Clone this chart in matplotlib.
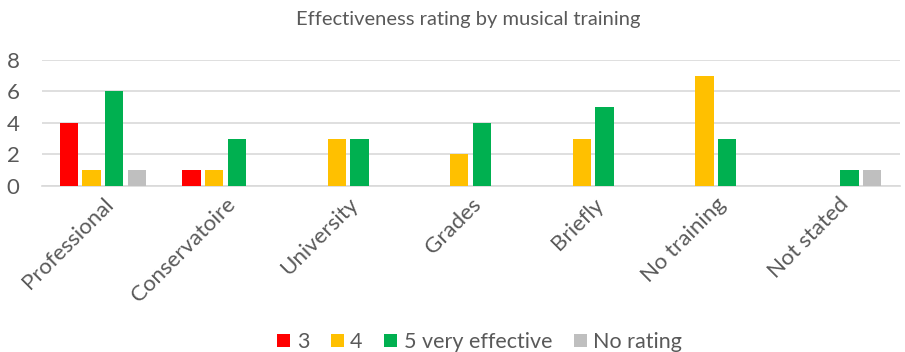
import matplotlib.pyplot as plt
import numpy as np

# ----------------------------
# Data
# ----------------------------
categories = ["Professional", "Conservatoire", "University", "Grades",
              "Briefly", "No training", "Not stated"]
series_names = ["3", "4", "5 very effective", "No rating"]
rating_3 = [4, 1, 0, 0, 0, 0, 0]
rating_4 = [1, 1, 3, 2, 3, 7, 0]
rating_5 = [6, 3, 3, 4, 5, 3, 1]
no_rating = [1, 0, 0, 0, 0, 0, 1]
y_ticks = [0, 2, 4, 6, 8]

# ----------------------------
# Look
# ----------------------------
COLORS = ["#FF0000", "#FFC000", "#00B050", "#BFBFBF"]
TEXT_COLOR = "#595959"
GRID_COLOR = "#D9D9D9"
FONT = ["Lato", "DejaVu Sans"]
BAR_W = 0.15
BAR_STEP = 0.185

plt.rcParams['font.family'] = FONT

fig = plt.figure(figsize=(9.05, 3.52), dpi=100)
ax = fig.add_axes([0.046, 0.472, 0.948, 0.358])

x = np.arange(len(categories))
all_series = [rating_3, rating_4, rating_5, no_rating]
for i, (vals, name, col) in enumerate(zip(all_series, series_names, COLORS)):
    offs = (i - 1.5) * BAR_STEP
    ax.bar(x + offs, vals, width=BAR_W, color=col, label=name, zorder=3)

ax.set_xlim(-0.5, len(categories) - 0.5)
ax.set_ylim(0, 8)
ax.set_yticks(y_ticks)
ax.set_yticklabels([str(t) for t in y_ticks], fontsize=16, color=TEXT_COLOR)
ax.set_xticks(x)
ax.set_xticklabels(categories, rotation=45, ha='right', rotation_mode='anchor',
                   fontsize=16, color=TEXT_COLOR)
ax.tick_params(axis='y', length=0, pad=16)
ax.tick_params(axis='x', length=0, pad=6)

ax.yaxis.grid(True, color=GRID_COLOR, linewidth=1.2, zorder=0)
for s in ['top', 'right', 'left']:
    ax.spines[s].set_visible(False)
ax.spines['bottom'].set_color(GRID_COLOR)
ax.spines['bottom'].set_linewidth(1.2)

fig.text(0.517, 0.945, "Effectiveness rating by musical training",
         ha='center', va='center', fontsize=14.5, color=TEXT_COLOR)

fig.legend(loc='lower center', bbox_to_anchor=(0.53, -0.055), ncol=4,
           frameon=False, fontsize=15.5, labelcolor=TEXT_COLOR,
           handlelength=0.6, handleheight=0.6, handletextpad=0.3,
           columnspacing=1.0)

fig.savefig("out.png", dpi=100)
